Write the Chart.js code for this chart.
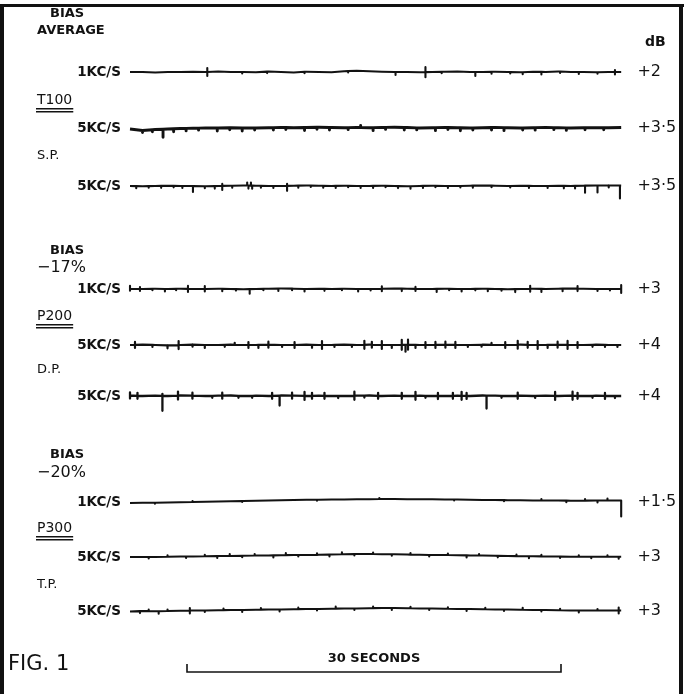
<!DOCTYPE html>
<html><head><meta charset="utf-8">
<script src="https://cdn.jsdelivr.net/npm/chart.js@4"></script>
<style>html,body{margin:0;padding:0;background:#fff}#wrap{width:684px;height:694px}</style>
</head><body><div id="wrap"><canvas id="c" width="684" height="694"></canvas></div>
<script>
// ---------------- DATA ----------------
const freqLabels = ['1KC/S','5KC/S','5KC/S','1KC/S','5KC/S','5KC/S','1KC/S','5KC/S','5KC/S'];
const dbLabels   = ['+2','+3·5','+3·5','+3','+4','+4','+1·5','+3','+3'];
const traceSeconds = 39.4;      // length of every trace (s)
const scaleBarSeconds = 30;     // "30 SECONDS" bar
// slow pen wander (deflection units, + = up), one value per ~1 s
const wiggle1 = [0,0,-0.5,0,0,0.3,0,0.5,0,0,-0.3,0.5,0,-0.5,0.3,0,-0.3,0.8,1.2,0.8,0.3,0,0,-0.3,0,0.3,0.5,0,0,0.3,0,-0.3,0.3,0,0.5,0,0,-0.3,0,0];
const wiggle2 = [-1,-2.5,-1.5,-1,-0.5,-0.3,0,0,0.3,0,0,0.3,0.5,0.3,0.5,0.8,0.5,0.3,0.5,0.3,0.5,0.8,0.5,0,0.3,0.5,0.3,0,0.3,0.5,0.3,0,0.3,0.5,0.3,0,0.3,0.3,0.3,0.5];
const wiggle3 = [0,-0.3,0,0.3,0,0,-0.3,0,0.3,0.5,0.3,0,0,0.3,0.5,0.3,0,0.3,0,0,0.3,0,-0.3,0,0.3,0,0,0.3,0.5,0.3,0,0.3,0,0,0.3,0,0.3,0.5,0.5,0.5];
const wiggle4 = [0.3,0,0.3,0,0.3,0,0,0.3,0,-0.3,0,0.3,0.5,0.3,0,0.3,0,0.3,0,0,0.3,0.5,0.3,0,0,0.3,0,0,0.3,0,-0.3,0,0.3,0,0.3,0.5,0.3,0,0,0];
const wiggle5 = [0,0.3,0,-0.3,0,0.3,0,0,0.3,0,0,0.3,0,0,0.3,0,0,0.3,0,0.3,0,0,0.3,0,0,0.3,0,0,0.3,0,0,0.3,0,0,0.3,0,0,0.3,0,0];
const wiggle6 = [0.5,0,0.3,0,0.5,0.3,0,0.3,0.5,0,0.3,0,0.5,0.3,0,0.3,0,0,0.3,0.5,0,0.3,0,0.3,0,0,0.3,0,0.5,0.3,0,0.3,0,0.3,0,0.3,0,0.3,0,0];
const wiggle7 = [-1,-0.8,-0.8,-0.5,-0.3,0,0.3,0.5,0.8,1,1.2,1.5,1.8,2,2.2,2.3,2.5,2.5,2.7,2.8,3,3,2.8,2.8,2.7,2.5,2.5,2.3,2,2,1.8,1.8,1.5,1.5,1.5,1.3,1.3,1.5,1.5,1.5];
const wiggle8 = [0,0,0,0.3,0.5,0.5,0.8,1,1,1.3,1.5,1.5,1.8,2,2,2.2,2.5,2.8,3,3,2.8,2.8,2.5,2.2,2,2,1.8,1.5,1.5,1.2,1,0.8,0.8,0.5,0.5,0.3,0.3,0.3,0.3,0.3];
const wiggle9 = [-0.5,0,-0.3,0,0.3,0.5,0.5,0.8,1,1,1.3,1.5,1.5,1.8,2,2,2.3,2.5,2.5,2.8,3,3,2.8,2.5,2.5,2.3,2,2,1.8,1.5,1.5,1.3,1,1,0.8,0.5,0.5,0.5,0.5,0.5];
// sharp pen flicks: [time s, deflection]
const spikes1 = [[6.2,4],[6.2,-4],[9,-1.5],[11,-1.5],[14,-1.5],[17.5,-1.5],[21.3,-3],[23.7,5],[23.7,-5],[25,-1.5],[27.7,-4],[29,-2],[30.5,-1.5],[31.5,-2],[33,-2.5],[34.5,-1.5],[36,-2],[37.5,-1.5],[38.9,-2.5],[38.9,2]];
const spikes2 = [[1,-2],[1.8,-2],[2.65,-8],[3.5,-3],[4.5,-2.5],[5.5,-2],[7,-3],[8,-2],[9,-3],[10,-2],[11.5,-2.5],[12.5,-2],[14,-3],[15,-2],[16,-2.5],[17.5,-2],[18.5,2],[19.5,-3],[20.5,-2],[22,-2.5],[23,-2],[24.5,-3],[25.5,-2],[26.5,-3],[27.5,-2],[29,-2.5],[30,-3],[31.5,-2],[32.5,-2.5],[34,-2],[35,-2.5],[36.5,-2],[38,-2]];
const spikes3 = [[0.5,-2],[1.5,-1.5],[2.5,-2],[3.5,-1.5],[4.2,-2],[5.05,-6],[6,-2],[6.8,-2.5],[7.4,-4],[7.4,2],[8.2,-2],[9.4,3],[9.5,-3],[9.7,3],[9.8,-3],[10.5,-2],[11.5,-2],[12.6,-5],[12.6,2],[13.5,-2],[14.5,-1.5],[15.5,-2],[16.5,-2],[17.5,-1.5],[18.5,-2],[19.5,-2],[20.5,-1.5],[21.5,-2],[22.5,-2.5],[23.5,-2],[24.5,-1.5],[25.5,-2],[26.5,-1.5],[27.5,-2],[29,-1.5],[30.5,-1.5],[32,-2],[33.5,-2],[34.8,-2.5],[35.7,-2.5],[36.5,-7],[37.5,-7],[38.4,-2],[39.3,-13]];
const spikes4 = [[0,3],[0,-2],[0.8,2],[0.8,-2],[1.8,-1.5],[2.8,-2.5],[3.7,-1.5],[4.65,3],[4.65,-3],[6,3],[6,-2.5],[7.4,-2.5],[8.5,-1.5],[9.6,-4.5],[10.7,-1.5],[11.9,-2.5],[13,-1.5],[14,-2.5],[15.6,-2],[17,-1.5],[18.3,-2.5],[19.3,-1.5],[20.2,2.5],[20.2,-2.5],[21.8,-2.5],[22.9,2],[22.9,-2],[24.6,-3],[25.6,-1.5],[26.6,-2.5],[27.7,-1.5],[28.7,-2.5],[29.8,-1.5],[30.9,-3],[32.1,3],[32.1,-3],[33,-3],[34.7,-2.5],[35.9,2.5],[35.9,-2.5],[37.5,-2],[38.5,-1.5],[39.4,4],[39.4,-4]];
const spikes5 = [[0.4,3],[0.4,-3],[1.8,-2],[3.0,-3],[3.9,4],[3.9,-4],[5.0,-2],[6.0,-3],[7.6,-2],[8.4,2],[9.5,3],[9.5,-3],[10.3,-3],[11.1,3],[11.1,-3],[12.2,-2],[13.2,3],[13.2,-3],[14.6,-3],[15.4,4],[15.4,-4],[16.4,-2],[17.8,-2],[18.8,4],[18.8,-4],[19.4,3],[19.4,-3],[20.2,4],[20.2,-4],[21.0,-3],[21.8,5],[21.8,-5],[22.1,-7],[22.3,5],[22.3,-5],[22.9,-3],[23.7,3],[23.7,-3],[24.5,3],[24.5,-3],[25.3,3],[25.3,-3],[26.1,3],[26.1,-3],[27.1,-2],[28.2,-2],[29.0,2],[30.1,3],[30.1,-3],[31.1,4],[31.1,-4],[31.9,3],[31.9,-3],[32.7,4],[32.7,-4],[33.5,-3],[34.3,3],[34.3,-3],[35.1,4],[35.1,-4],[35.9,3],[35.9,-3],[37.1,-2],[38.1,-2],[39.1,-2]];
const spikes6 = [[0,3],[0,-3],[0.6,3],[0.6,-3],[2.6,2],[2.6,-15],[3.85,4],[3.85,-4],[5.0,3],[5.0,-3],[6.6,-2],[7.4,3],[7.4,-3],[8.7,-2],[9.8,-2],[11.4,3],[11.4,-3],[12.0,-10],[13.0,3],[13.0,-3],[14.0,4],[14.0,-4],[14.6,3],[14.6,-3],[15.6,3],[15.6,-3],[16.7,-2],[18.0,4],[18.0,-4],[18.8,-2],[19.9,3],[19.9,-3],[21.8,3],[21.8,-3],[22.9,4],[22.9,-4],[23.7,-2],[24.7,3],[24.7,-3],[25.9,3],[25.9,-3],[26.6,4],[26.6,-4],[27.0,3],[27.0,-3],[28.6,-13],[29.8,-2],[31.1,3],[31.1,-3],[32.5,-2],[34.1,4],[34.1,-4],[35.5,4],[35.5,-4],[35.9,3],[35.9,-3],[37.1,-2],[38.1,3],[38.1,-3],[38.9,-2]];
const spikes7 = [[2,-1],[5,1],[9,-1],[15,-1],[20,1],[26,-1],[30,-1],[33,1.5],[35,-1.5],[36.5,1.5],[37.5,-2],[38.3,2],[39.4,-16]];
const spikes8 = [[1.5,-1.5],[3,1.5],[4.5,-1.5],[6,1.5],[7,-2],[8,2],[9,-1.5],[10,1.5],[11.5,-2],[12.5,2],[13.5,-1.5],[15,1.5],[16,-2],[17,2],[18,-1.5],[19.5,1.5],[21,-1.5],[22.5,1.5],[24,-1.5],[25.5,1.5],[27,-2],[28,1.5],[29.5,-1.5],[31,1.5],[32,-2],[33,1.5],[34.5,-1.5],[36,1.5],[37,-1.5],[38.3,1.5],[39.2,-2]];
const spikes9 = [[0.8,-2],[1.5,1.5],[2.3,-2.5],[3,1.5],[4.8,-3],[4.8,2.5],[6,-1.5],[7.5,1.5],[9,-2],[10.5,1.5],[12,-2],[13.5,1.5],[15,-1.5],[16.5,2],[18,-1.5],[19.5,1.5],[21,-2],[22.5,1.5],[24,-1.5],[25.5,1.5],[27,-2],[28.5,1.5],[30,-1.5],[31.5,2],[33,-1.5],[34.5,1.5],[36,-2],[37.5,1.5],[39.2,3],[39.2,-3]];

// ---------------- LAYOUT (not data) ----------------
const rowLevel = [72,128,186,289,345,396,502,557,611];   // vertical slot of each trace
const rowWidth = [2.1,2.9,2.1,2.1,2.2,2.3,2.1,2.1,2.1];
const pxPerSec = 374/30, traceX0 = 130;
const xMin = -traceX0/pxPerSec, xMax = (684-traceX0)/pxPerSec;
const barStart = (187-traceX0)/pxPerSec;
const FB = 'bold 13px "DejaVu Sans", Arial';
const FR = '13px "DejaVu Sans", Arial';
const FU = '14px "DejaVu Sans", Arial';
const sideLabels = [
  {t:'BIAS',x:50,y:14,f:FB},
  {t:'AVERAGE',x:37,y:31,f:FB},
  {t:'T100',x:37,y:100,f:FU,ul:true},
  {t:'S.P.',x:37,y:156,f:FR},
  {t:'BIAS',x:50,y:251,f:FB},
  {t:'−17%',x:37,y:268,f:'16px "DejaVu Sans", Arial'},
  {t:'P200',x:37,y:316,f:FU,ul:true},
  {t:'D.P.',x:37,y:370,f:FR},
  {t:'BIAS',x:50,y:455,f:FB},
  {t:'−20%',x:37,y:473,f:'16px "DejaVu Sans", Arial'},
  {t:'P300',x:37,y:528,f:FU,ul:true},
  {t:'T.P.',x:37,y:585,f:FR},
  {t:'dB',x:645,y:42,f:'bold 14px "DejaVu Sans", Arial'},
  {t:'FIG. 1',x:8,y:665,f:'21px "DejaVu Sans", Arial'}
];

// ---------------- BUILD ----------------
const wiggles = [wiggle1,wiggle2,wiggle3,wiggle4,wiggle5,wiggle6,wiggle7,wiggle8,wiggle9];
const spikes  = [spikes1,spikes2,spikes3,spikes4,spikes5,spikes6,spikes7,spikes8,spikes9];
function buildTrace(level, w, sp) {
  const n = w.length, step = traceSeconds/(n-1);
  const pts = w.map((d,i)=>({x:i*step, y:level-d}));
  const base = t => { const f=t/step; const i=Math.min(n-2,Math.max(0,Math.floor(f))); const r=f-i; return level-(w[i]*(1-r)+w[i+1]*r); };
  sp.forEach(([t,a])=>{ const b=base(t); pts.push({x:t,y:b},{x:t,y:b-a},{x:t,y:b}); });
  return pts.sort((p,q)=>p.x-q.x);
}
const datasets = wiggles.map((w,i)=>({
  data: buildTrace(rowLevel[i], w, spikes[i]),
  borderColor:'#121212', borderWidth:rowWidth[i], pointRadius:0,
  tension:0, borderJoinStyle:'round', fill:false
}));
datasets.push({
  data:[{x:barStart,y:664},{x:barStart,y:672},{x:barStart+scaleBarSeconds,y:672},{x:barStart+scaleBarSeconds,y:664}],
  borderColor:'#121212', borderWidth:1.6, pointRadius:0, tension:0, fill:false
});

const decor = {
  id:'decor',
  beforeDraw(ch){
    const c=ch.ctx; c.save(); c.fillStyle='#fff'; c.fillRect(0,0,ch.width,ch.height);
    c.fillStyle='#111';
    c.fillRect(0,4,684,3); c.fillRect(0,4,4,690); c.fillRect(679,4,4,690);
    c.restore();
  },
  afterDraw(ch){
    const c=ch.ctx, X=ch.scales.x, Y=ch.scales.y;
    c.save(); c.fillStyle='#121212'; c.textBaseline='middle';
    c.font='bold 13.5px "DejaVu Sans", Arial'; c.textAlign='right';
    freqLabels.forEach((s,i)=>c.fillText(s, X.getPixelForValue(-0.72), Y.getPixelForValue(rowLevel[i])));
    c.font='16px "DejaVu Sans", Arial'; c.textAlign='left';
    dbLabels.forEach((s,i)=>c.fillText(s, X.getPixelForValue(40.7), Y.getPixelForValue(rowLevel[i])));
    sideLabels.forEach(l=>{
      c.font=l.f; c.textAlign='left';
      const y=Y.getPixelForValue(l.y); c.fillText(l.t,l.x,y);
      if(l.ul){ const w=c.measureText(l.t).width; c.fillRect(l.x-1,y+8,w+2,1.5); c.fillRect(l.x-1,y+11,w+2,1.5); }
    });
    c.font=FB; c.textAlign='center';
    c.fillText('30 SECONDS', X.getPixelForValue(barStart+scaleBarSeconds/2), Y.getPixelForValue(659));
    c.restore();
  }
};

new Chart(document.getElementById('c'), {
  type:'line',
  data:{datasets},
  options:{
    responsive:false, animation:false, events:[],
    layout:{padding:0},
    scales:{
      x:{type:'linear',min:xMin,max:xMax,display:false},
      y:{type:'linear',min:0,max:694,reverse:true,display:false}
    },
    plugins:{legend:{display:false},tooltip:{enabled:false}}
  },
  plugins:[decor]
});
</script></body></html>
